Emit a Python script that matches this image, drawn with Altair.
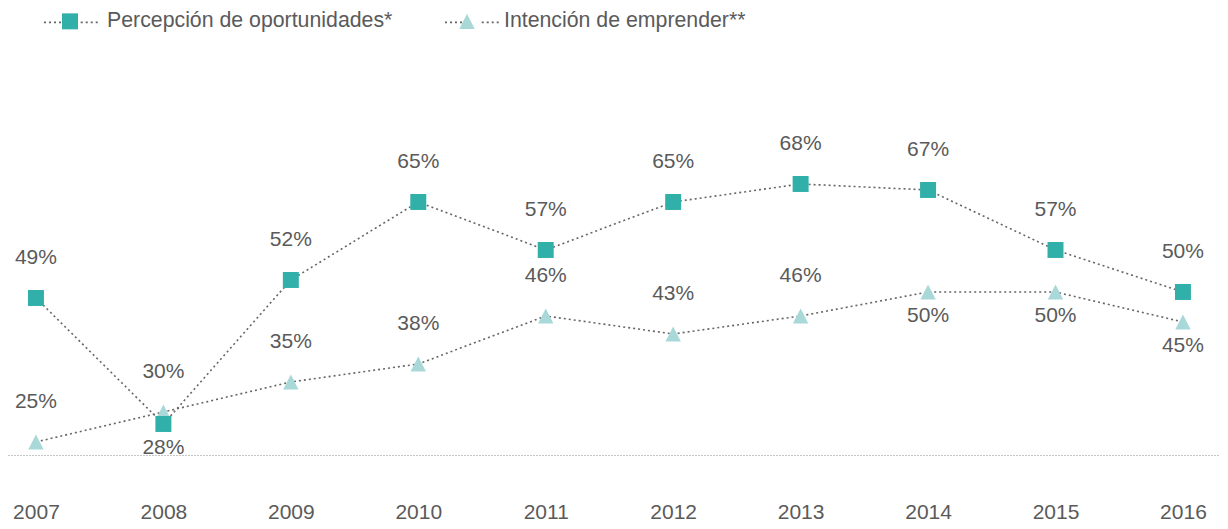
import altair as alt
import pandas as pd

years = ["2007", "2008", "2009", "2010", "2011", "2012", "2013", "2014", "2015", "2016"]
series_names = ["Percepción de oportunidades*", "Intención de emprender**"]
percepcion = [49, 28, 52, 65, 57, 65, 68, 67, 57, 50]
intencion = [25, 30, 35, 38, 46, 43, 46, 50, 50, 45]
percepcion_label_side = ["above", "below", "above", "above", "above", "above", "above", "above", "above", "above"]
intencion_label_side = ["above", "above", "above", "above", "above", "above", "above", "below", "below", "below"]

rows = []
for i, y in enumerate(years):
    rows.append({"year": y, "serie": series_names[0], "value": percepcion[i],
                 "side": percepcion_label_side[i], "order": 1})
    rows.append({"year": y, "serie": series_names[1], "value": intencion[i],
                 "side": intencion_label_side[i], "order": 0})
df = pd.DataFrame(rows)

FONT = "Liberation Sans"
TEXT_COLOR = "#5a5a5a"
SQUARE = "M-0.296,-0.296H0.296V0.296H-0.296Z"
TRIANGLE = "M0,-0.28L0.285,0.28L-0.285,0.28Z"
DOTS = "M-1,0H-0.36M0.36,0H1"
SYM = 2916

x_enc = alt.X("year:O", sort=years, scale=alt.Scale(type="point", padding=0.255, align=0.43),
              axis=alt.Axis(title=None, ticks=False, tickSize=0, grid=False, labelAngle=0,
                            labelFont=FONT, labelFontSize=21, labelColor=TEXT_COLOR,
                            labelBaseline="middle", labelPadding=57,
                            domainColor="#8a8a8a", domainDash=[1, 2], domainWidth=1))
y_enc = alt.Y("value:Q", scale=alt.Scale(domain=[22.83, 97.33], nice=False, zero=False), axis=None)

legend_common = dict(title=None, orient="none", legendX=35, legendY=-14, direction="horizontal",
                     symbolSize=SYM, labelFont=FONT, labelFontSize=21.3, labelColor=TEXT_COLOR,
                     labelOffset=10, labelLimit=600, padding=0)

lines = alt.Chart(df).mark_line(strokeDash=[2, 3], strokeWidth=1.6).encode(
    x=x_enc, y=y_enc,
    color=alt.Color("serie:N", scale=alt.Scale(domain=series_names, range=["#666666", "#666666"]),
                    legend=alt.Legend(symbolType=DOTS, symbolDash=[2, 3], symbolStrokeWidth=1.6,
                                      symbolStrokeColor="#666666", symbolFillColor="transparent",
                                      labelExpr="''", columnPadding=332, **legend_common)),
)

points = alt.Chart(df).mark_point(filled=True, opacity=1, size=SYM, strokeWidth=0).encode(
    x=x_enc, y=y_enc,
    color=alt.Color("serie:N", scale=alt.Scale(domain=series_names, range=["#31b0aa", "#a8d8d8"]),
                    legend=alt.Legend(symbolOpacity=1, symbolStrokeWidth=0, columnPadding=47,
                                      **legend_common)),
    shape=alt.Shape("serie:N", scale=alt.Scale(domain=series_names, range=[SQUARE, TRIANGLE]),
                    legend=alt.Legend(symbolOpacity=1, symbolStrokeWidth=0, columnPadding=47,
                                      **legend_common)),
    order=alt.Order("order:Q"),
)

labels_above = alt.Chart(df).transform_filter(alt.datum.side == "above").transform_calculate(
    label="datum.value + '%'").mark_text(
    font=FONT, fontSize=21, color=TEXT_COLOR, baseline="middle", dy=-40
).encode(x=x_enc, y=y_enc, text=alt.Text("label:N"))

labels_below = alt.Chart(df).transform_filter(alt.datum.side == "below").transform_calculate(
    label="datum.value + '%'").mark_text(
    font=FONT, fontSize=21, color=TEXT_COLOR, baseline="middle", dy=24
).encode(x=x_enc, y=y_enc, text=alt.Text("label:N"))

chart = alt.layer(lines, points, labels_above, labels_below).resolve_scale(
    color="independent", shape="independent"
).resolve_legend(color="independent", shape="independent").properties(
    width=1212, height=447,
    background="white",
    autosize=alt.AutoSizeParams(type="none"),
    padding={"left": 0, "top": 0, "right": 0, "bottom": 66},
).configure_view(stroke=None)

chart.save("out.html", embed_options={"renderer": "svg", "actions": False})
